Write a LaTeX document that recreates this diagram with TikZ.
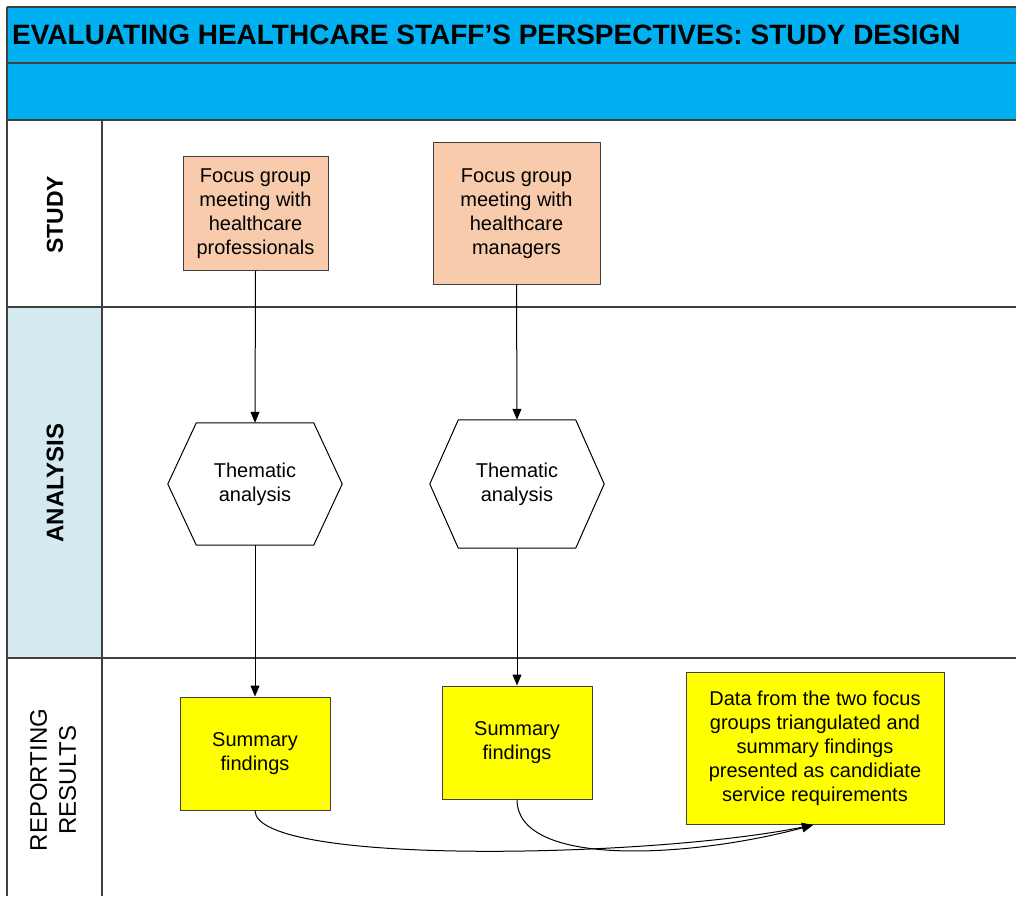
\documentclass[tikz,border=0pt]{standalone}
\usepackage{fontspec}
\setmainfont{Liberation Sans}
\usetikzlibrary{arrows.meta,calc}
\definecolor{hdrblue}{HTML}{00B0F0}
\definecolor{peach}{HTML}{F8CBAD}
\definecolor{lightlane}{HTML}{D4EAF0}
\definecolor{framegray}{HTML}{404040}
\definecolor{sumyellow}{HTML}{FFFF00}
\tikzset{
  frame/.style={draw=framegray,line width=1.2pt},
  boxtxt/.style={font=\fontsize{20}{24}\selectfont,align=center,inner sep=0pt},
  studybox/.style={boxtxt,draw=framegray,line width=1pt,fill=peach},
  sumbox/.style={boxtxt,draw=framegray,line width=1pt,fill=sumyellow},
  hexbox/.style={boxtxt,minimum width=117pt,minimum height=122pt},
  lanelbl/.style={rotate=90,align=center,inner sep=0pt},
  conn/.style={draw=black,line width=1pt,-{Triangle[length=11pt,width=9pt]}},
}
\begin{document}
\begin{tikzpicture}[x=1pt,y=-1pt]
\useasboundingbox (0,0) rectangle (1016,896);
% header bands
\fill[hdrblue] (7,7) rectangle (1016,120);
\draw[frame] (7,7) -- (1016,7);
\draw[frame] (7,63) -- (1016,63);
\draw[frame] (7,120) -- (1016,120);
\node[anchor=west,inner sep=0pt,font=\fontsize{28}{32}\selectfont\bfseries] (title) at (12,35) {EVALUATING HEALTHCARE STAFF’S PERSPECTIVES: STUDY DESIGN};
% lanes
\fill[lightlane] (7,307) rectangle (102,658);
\draw[frame] (7,7) -- (7,896);
\draw[frame] (102,120) -- (102,896);
\draw[frame] (7,307) -- (1016,307);
\draw[frame] (7,658) -- (1016,658);
\node[lanelbl,font=\fontsize{23}{28}\selectfont\bfseries] (lstudy) at (55,215) {STUDY};
\node[lanelbl,font=\fontsize{24}{28}\selectfont\bfseries] (lanalysis) at (55,483) {ANALYSIS};
\node[lanelbl,font=\fontsize{24}{29}\selectfont] (lreport) at (53,780) {REPORTING\\RESULTS};
% study boxes
\node[studybox,minimum width=145pt,minimum height=113pt] (fg1) at (255.5,213.5) {Focus group\\meeting with\\healthcare\\professionals};
\node[studybox,minimum width=167pt,minimum height=141pt] (fg2) at (516.5,213.5) {Focus group\\meeting with\\healthcare\\managers};
% hexagons
\node[hexbox] (ta1) at (255,484) {Thematic\\analysis};
\node[hexbox,minimum height=128pt] (ta2) at (517,484) {Thematic\\analysis};
\foreach \h in {ta1,ta2}{
  \draw[draw=black,line width=1pt] (\h.north west) -- (\h.north east) -- ($(\h.east)+(28.5,0)$) -- (\h.south east) -- (\h.south west) -- ($(\h.west)+(-28.5,0)$) -- cycle;
}
% summary boxes
\node[sumbox,minimum width=150pt,minimum height=113pt] (sf1) at (255,753.5) {Summary\\findings};
\node[sumbox,minimum width=150pt,minimum height=113pt] (sf2) at (517,742.5) {Summary\\findings};
\node[sumbox,minimum width=258pt,minimum height=152pt] (tri) at (815,748) {Data from the two focus\\groups triangulated and\\summary findings\\presented as candidiate\\service requirements};
% connectors
\draw[conn] (fg1.south) -- (ta1.north);
\draw[conn] (ta1.south) -- (sf1.north);
\draw[conn] (fg2.south) -- (ta2.north);
\draw[conn] (ta2.south) -- (sf2.north);
\coordinate (tip) at (813,825);
\draw[conn] (sf1.south) .. controls (255,866) and (650,858) .. (tip);
\draw[conn] (sf2.south) .. controls (517,868) and (690,858) .. (tip);
\end{tikzpicture}
\end{document}
